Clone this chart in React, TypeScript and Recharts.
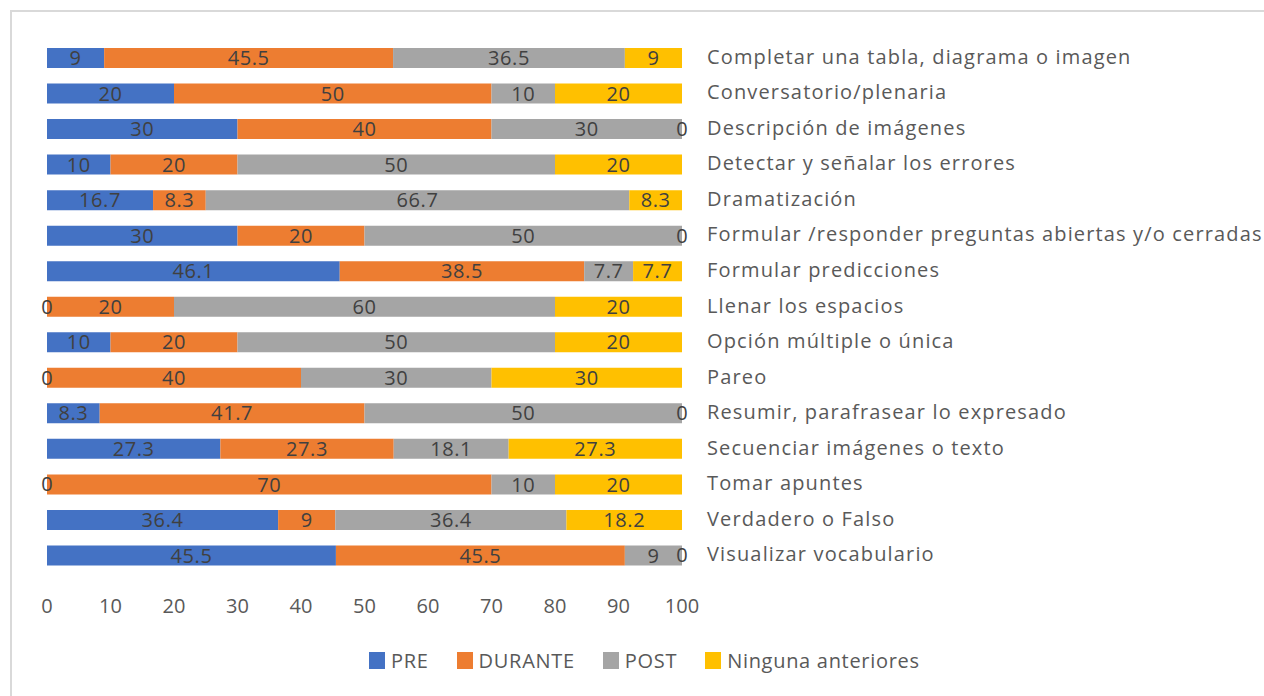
import React from "react";
import { BarChart, Bar, XAxis, YAxis, Legend, LabelList } from "recharts";

/* ── Actividades: PRE / DURANTE / POST / Ninguna (%) ── */

const categories = [
  "Completar una tabla, diagrama o imagen",
  "Conversatorio/plenaria",
  "Descripción de imágenes",
  "Detectar y señalar los errores",
  "Dramatización",
  "Formular /responder preguntas abiertas y/o cerradas",
  "Formular predicciones",
  "Llenar los espacios",
  "Opción múltiple o única",
  "Pareo",
  "Resumir, parafrasear lo expresado",
  "Secuenciar imágenes o texto",
  "Tomar apuntes",
  "Verdadero o Falso",
  "Visualizar vocabulario",
];

const pre = [9, 20, 30, 10, 16.7, 30, 46.1, 0, 10, 0, 8.3, 27.3, 0, 36.4, 45.5];
const durante = [45.5, 50, 40, 20, 8.3, 20, 38.5, 20, 20, 40, 41.7, 27.3, 70, 9, 45.5];
const post = [36.5, 10, 30, 50, 66.7, 50, 7.7, 60, 50, 30, 50, 18.1, 10, 36.4, 9];
const ninguna = [9, 20, 0, 20, 8.3, 0, 7.7, 20, 20, 30, 0, 27.3, 20, 18.2, 0];

const xTicks = [0, 10, 20, 30, 40, 50, 60, 70, 80, 90, 100];

const series = [
  { key: "pre", name: "PRE", color: "#4472C4" },
  { key: "durante", name: "DURANTE", color: "#ED7D31" },
  { key: "post", name: "POST", color: "#A5A5A5" },
  { key: "ninguna", name: "Ninguna anteriores", color: "#FFC000" },
];

const data = categories.map((cat, i) => ({
  cat,
  pre: pre[i],
  durante: durante[i],
  post: post[i],
  ninguna: ninguna[i],
}));

const FONT = "'Open Sans', 'DejaVu Sans', sans-serif";
const TEXT = "#595959";
const LABEL = "#404040";

function CatTick(props: any) {
  const { x, y, payload } = props;
  return (
    <text x={x + 17} y={y} dy="0.3em" textAnchor="start" fill={TEXT} fontSize={20} fontFamily={FONT} letterSpacing={1.15}>
      {payload.value}
    </text>
  );
}

// zero-width segments are not drawn, so their "0" goes on the neighbouring segment's edge
function zeroLabel(side: "left" | "right") {
  return (props: any) => {
    const { x, y, width, height, value } = props;
    if (value !== 0) return null;
    const cx = side === "left" ? x : x + width;
    return (
      <text x={cx} y={y + height / 2} dy="0.35em" textAnchor="middle" fill={LABEL} fontSize={20} fontFamily={FONT}>
        0
      </text>
    );
  };
}

function LegendBox() {
  return (
    <div style={{ display: "flex", justifyContent: "flex-start", alignItems: "center", fontFamily: FONT, fontSize: 20, color: TEXT, paddingLeft: 369 }}>
      {series.map((s) => (
        <div key={s.key} style={{ display: "flex", alignItems: "center", marginRight: 28 }}>
          <span style={{ display: "inline-block", width: 16, height: 17, background: s.color, marginRight: 6 }} />
          <span style={{ letterSpacing: 0.7 }}>{s.name}</span>
        </div>
      ))}
    </div>
  );
}

export default function App() {
  return (
    <div style={{ position: "absolute", left: 0, top: 0, width: 1264, height: 696, background: "#fff", overflow: "hidden" }}>
      <div style={{ position: "absolute", left: 10, top: 10, width: 1300, height: 720, border: "2px solid #D9D9D9" }} />
      <BarChart
        width={1264}
        height={696}
        data={data}
        layout="vertical"
        margin={{ top: 40, right: 22, left: 47, bottom: 9 }}
        barSize={20}
        style={{ position: "absolute", left: 0, top: 0 }}
      >
        <XAxis
          type="number"
          domain={[0, 100]}
          ticks={xTicks}
          axisLine={false}
          tickLine={false}
          tickMargin={20}
          height={74}
          tick={{ fill: TEXT, fontSize: 20, fontFamily: FONT }}
        />
        <YAxis
          type="category"
          dataKey="cat"
          orientation="right"
          width={560}
          axisLine={false}
          tickLine={false}
          interval={0}
          tick={<CatTick />}
        />
        <Legend
          verticalAlign="bottom"
          height={40}
          wrapperStyle={{ left: 0, width: 1264 }}
          content={() => <LegendBox />}
        />
        {series.map((s) => (
          <Bar key={s.key} dataKey={s.key} name={s.name} stackId="a" fill={s.color} isAnimationActive={false}>
            <LabelList dataKey={s.key} position="center" fill={LABEL} fontSize={20} fontFamily={FONT} letterSpacing={0.6} />
            {s.key === "durante" && <LabelList dataKey="pre" content={zeroLabel("left")} />}
            {s.key === "post" && <LabelList dataKey="ninguna" content={zeroLabel("right")} />}
          </Bar>
        ))}
      </BarChart>
    </div>
  );
}
